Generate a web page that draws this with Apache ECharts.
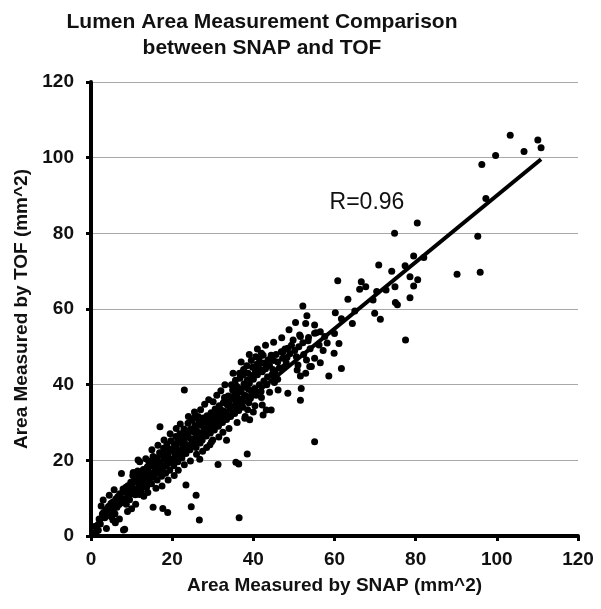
<!DOCTYPE html>
<html>
<head>
<meta charset="utf-8">
<script src="https://cdn.jsdelivr.net/npm/echarts@6/dist/echarts.min.js"></script>
<style>
html,body{margin:0;padding:0;background:#fff;}
#chart{width:601px;height:609px;}
</style>
</head>
<body>
<div id="chart"></div>
<script>
var titleLines = ['Lumen Area Measurement Comparison', 'between SNAP and TOF'];
var xAxisName = 'Area Measured by SNAP (mm^2)';
var yAxisName = 'Area Measured by TOF (mm^2)';
var rLabel = 'R=0.96';
var rLabelPos = [68, 88];

var lowRange = [
 [0.5,0.8],[1.1,0.7],[0.9,2.5],[1.2,0.5],[1.8,1.5],[3.8,2.0],[8.3,1.8],[8.0,1.6],[2.5,7.9],
 [2.0,4.5],[2.3,3.2],[2.8,5.8],[3.1,6.2],[3.4,4.8],[3.7,7.0],[4.0,5.5],[4.3,7.8],[4.6,6.2],[4.9,8.6],
 [5.0,5.1],[5.4,4.2],[5.1,6.8],[5.4,9.0],[5.6,7.4],[5.9,5.9],[5.7,12.2],[6.1,9.8],[6.4,7.6],[6.6,10.4],[6.9,8.3],
 [7.1,11.2],[7.3,8.7],[7.6,10.0],[7.9,12.4],[7.5,16.5],[8.1,9.4],[8.4,11.6],[8.6,12.9],[8.9,10.2],[8.7,8.4],
 [9.1,13.3],[9.3,10.8],[9.6,12.1],[9.8,14.2],[9.5,9.6],[10.0,11.6],[10.2,13.8],[10.5,12.5],[10.7,15.0],[10.9,10.9],[10.3,16.0],[10.4,16.8],
 [11.1,14.4],[11.3,12.2],[11.6,15.6],[11.8,13.1],[11.5,17.2],[11.9,11.0],[11.6,20.1],
 [12.0,14.0],[12.2,16.3],[12.5,13.2],[12.7,15.5],[12.9,17.6],[12.4,11.8],
 [13.0,15.8],[13.2,14.1],[13.5,16.9],[13.7,12.9],[13.9,18.3],[13.4,15.0],
 [14.0,17.4],[14.3,15.2],[14.5,18.8],[14.7,16.0],[14.9,13.8],[14.2,19.8]
];
var midRange = [
 [15.0,16.7],[15.2,18.6],[15.5,15.5],[15.7,19.9],[15.9,17.6],[15.3,21.0],[15.3,7.6],
 [16.0,18.4],[16.2,20.6],[16.5,16.8],[16.7,19.2],[16.9,22.0],[16.3,14.8],[17.0,28.9],[17.7,7.3],
 [17.0,19.6],[17.2,17.6],[17.5,21.4],[17.7,18.6],[17.9,23.2],[17.4,15.8],[18.9,6.2],
 [18.0,20.4],[18.2,22.2],[18.5,18.8],[18.7,24.3],[18.9,20.9],[18.4,16.6],
 [19.0,21.8],[19.2,19.6],[19.5,23.0],[19.7,25.2],[19.9,20.2],[19.4,17.4],
 [20.0,22.6],[20.2,20.4],[20.5,24.4],[20.7,21.6],[20.9,26.3],[20.4,18.6],
 [21.0,23.4],[21.2,21.0],[21.5,25.6],[21.7,22.6],[21.9,27.0],[21.4,19.6],
 [22.0,24.6],[22.2,22.4],[22.5,26.2],[22.7,23.6],[22.9,28.3],[22.4,20.6],[23.0,38.6],
 [23.0,25.0],[23.2,27.4],[23.5,23.2],[23.7,26.6],[23.9,29.8],[23.4,21.8],[23.4,13.5],[24.7,7.7],[25.9,10.8],[26.7,4.2],
 [24.0,26.2],[24.2,24.0],[24.5,28.2],[24.7,25.6],[24.9,30.6],[24.4,22.8],
 [25.0,27.6],[25.3,25.0],[25.6,29.2],[25.8,26.4],[25.4,31.2],[25.9,23.4],
 [26.0,28.0],[26.3,26.0],[26.6,30.4],[26.8,27.2],[26.4,31.6],[26.9,24.6],[26.8,20.3],
 [27.0,29.4],[27.3,27.0],[27.6,31.2],[27.8,28.4],[27.4,25.4],
 [28.0,30.2],[28.3,28.0],[28.6,31.8],[28.8,29.4],[28.4,26.4],
 [29.0,31.0],[29.3,29.0],[29.6,32.6],[29.8,30.4],[29.4,27.2],[29.3,24.1],[29.7,24.9],
 [30.0,31.6],[30.3,30.0],[30.6,33.6],[30.8,31.0],[30.1,35.5],[30.4,28.0],
 [31.0,32.6],[31.3,30.6],[31.6,34.4],[31.8,32.0],[31.4,29.0],[31.3,18.9],
 [32.0,33.4],[32.3,31.6],[32.6,35.2],[32.8,33.0],[32.4,30.0],[32.9,36.6],
 [33.0,35.9],[33.3,32.6],[33.6,34.6],[33.8,37.0],[33.4,30.8],[33.4,25.3],
 [34.0,35.4],[34.2,33.6],[34.5,36.8],[34.7,34.2],[34.9,38.6],[34.4,31.6],[34.6,40.0]
];
var spreadRange = [
 [3.0,9.5],[4.5,10.8],[6.0,3.5],[7.0,4.5],[9.0,6.5],[10.0,7.2],[11.0,8.4],[12.0,19.6],[13.0,10.5],[13.5,20.4],
 [14.0,11.5],[15.0,22.8],[16.0,12.6],[16.5,24.0],[17.5,13.2],[18.0,25.4],[19.0,14.8],[19.5,27.0],[20.5,16.0],
 [21.0,28.4],[21.5,17.4],[22.0,29.6],[23.0,18.8],[24.0,31.6],[24.5,19.8],[25.5,32.8],[26.0,21.6],[27.0,33.4],
 [27.5,22.4],[28.0,34.8],[28.5,23.4],[29.0,36.0],[30.0,25.4],[31.0,37.2],[31.5,26.2],[32.0,38.4],[32.5,27.4],
 [33.0,40.0],[34.0,28.4],[35.0,43.0],[36.0,30.0],[37.0,46.0],[38.0,31.6],[39.0,48.0],[40.0,32.8],[41.0,49.4],
 [42.0,36.6],[43.0,50.4],[44.0,38.0],[45.0,51.2],[46.0,41.4],[47.0,52.4]
];
var denseRange = [
 [35.0,36.2],[35.2,34.0],[35.5,38.0],[35.7,35.4],[35.9,39.6],[35.4,32.4],[35.6,41.2],[35.8,37.0],[35.7,19.5],[36.4,19.0],[36.5,4.8],
 [36.0,37.6],[36.2,35.0],[36.5,39.0],[36.7,41.7],[36.9,36.2],[36.4,33.2],[36.6,43.0],[36.8,38.2],
 [37.0,38.4],[37.2,36.0],[37.5,42.6],[37.7,40.2],[37.9,31.1],[37.4,34.0],[37.6,44.0],[37.8,37.2],
 [38.0,39.4],[38.2,37.0],[38.5,41.2],[38.7,43.0],[38.9,35.2],[38.4,45.0],[38.6,33.4],[38.8,38.8],[38.5,21.7],
 [39.0,40.4],[39.1,30.7],[39.4,42.4],[39.6,38.0],[39.8,44.6],[39.3,36.4],[39.9,41.6],[39.5,46.4],
 [40.0,41.4],[40.3,39.0],[40.5,43.6],[40.7,37.2],[40.9,45.4],[40.4,34.4],[40.6,47.4],
 [41.0,42.6],[41.2,45.2],[41.5,40.0],[41.7,44.0],[41.9,38.2],[41.4,47.0],
 [42.0,45.7],[42.2,43.4],[42.4,32.0],[42.6,41.0],[42.8,45.7],[42.2,34.6],[42.0,48.3],[42.4,47.8],
 [43.0,44.2],[43.2,33.3],[43.5,42.0],[43.7,46.6],[43.3,40.0],
 [44.0,45.0],[44.4,47.8],[44.4,33.3],[44.6,42.6],[44.8,44.0],[44.5,47.4],
 [45.0,46.4],[45.3,43.4],[45.6,48.0],[45.2,40.6],
 [46.1,38.6],[46.0,46.0],[46.4,44.4],[46.9,48.7],[47.2,47.0],[47.5,44.6],[47.8,49.4],[47.3,48.7],
 [48.1,45.7],[48.5,49.6],[48.5,37.7],[48.8,54.5],[48.3,47.2],[49.0,48.2],[49.4,50.4],[49.8,51.8]
];
var highRange = [
 [50.4,56.4],[50.8,43.9],[51.0,45.2],[50.2,49.0],[50.6,47.4],
 [51.4,53.1],[51.6,52.7],[51.6,42.3],[51.8,39.0],[51.6,35.9],[51.2,50.0],
 [52.2,60.8],[52.2,51.1],[52.9,56.2],[52.9,43.0],[52.4,48.0],
 [53.1,46.5],[53.2,58.2],[53.5,51.6],[53.6,52.5],[53.9,44.8],[54.3,44.8],[54.0,49.5],
 [55.1,55.8],[55.1,53.6],[55.1,47.0],[55.5,53.7],[55.1,24.9],[56.5,54.0],[56.5,45.8],[56.2,50.5],
 [57.6,52.7],[57.2,49.0],[58.6,42.3],[58.2,51.0],
 [59.9,48.3],[61.1,50.9],[61.7,44.3],[60.2,59.0],[61.7,57.4],[60.8,67.5],[60.0,53.5],
 [63.3,62.6],[64.4,56.2],[66.6,67.2],[66.2,65.2],[65.0,59.5],
 [67.7,65.9],[69.5,62.4],[69.9,58.9],[71.3,57.3],[70.4,64.6],[70.9,71.6],[72.7,65.0],
 [74.1,70.0],[74.8,80.0],[74.9,65.9],[75.0,61.7],[75.5,61.1],[77.4,71.4],[77.5,51.8],[78.6,68.5],[78.6,63.0],
 [79.5,74.0],[79.5,66.1],[80.4,82.7],[80.5,67.7],[82.0,73.6],
 [90.2,69.2],[95.3,79.2],[95.9,69.7],[96.3,98.2],[97.3,89.2],[99.7,100.6],[103.3,105.9],[106.7,101.6],[110.1,104.7],[110.9,102.6]
];
var fitLine = [[0.5, 2.4], [110.9, 99.6]];

var xMin = 0, xMax = 120, xStep = 20;
var yMin = 0, yMax = 120, yStep = 20;

var allPoints = lowRange.concat(midRange, spreadRange, denseRange, highRange);
var chart = echarts.init(document.getElementById('chart'));
var fontFam = '"Liberation Sans", Arial, sans-serif';
chart.setOption({
  animation: false,
  backgroundColor: '#ffffff',
  grid: {left: 91, right: 23, top: 82, bottom: 73, containLabel: false},
  graphic: [
    {type: 'text', x: 262, y: 9, style: {text: titleLines.join('\n'), textAlign: 'center', textVerticalAlign: 'top', font: 'bold 21px ' + fontFam, fill: '#111', lineHeight: 26}}
  ],
  xAxis: {
    type: 'value', min: xMin, max: xMax, interval: xStep,
    name: xAxisName, nameLocation: 'middle', nameGap: 40,
    nameTextStyle: {fontFamily: fontFam, fontWeight: 'bold', fontSize: 19, color: '#111'},
    axisLine: {show: true, lineStyle: {color: '#000', width: 4}},
    axisTick: {show: true, inside: false, length: 5, lineStyle: {color: '#000', width: 3}},
    axisLabel: {fontFamily: fontFam, fontWeight: 'bold', fontSize: 19, color: '#111', margin: 14},
    splitLine: {show: false}
  },
  yAxis: {
    type: 'value', min: yMin, max: yMax, interval: yStep,
    name: yAxisName, nameLocation: 'middle', nameGap: 60,
    nameTextStyle: {fontFamily: fontFam, fontWeight: 'bold', fontSize: 19, color: '#111'},
    axisLine: {show: true, lineStyle: {color: '#000', width: 4}},
    axisTick: {show: true, inside: false, length: 5, lineStyle: {color: '#000', width: 3}},
    axisLabel: {fontFamily: fontFam, fontWeight: 'bold', fontSize: 19, color: '#111', margin: 17},
    splitLine: {show: true, lineStyle: {color: '#a8a8a8', width: 1}}
  },
  series: [
    {type: 'scatter', data: allPoints, symbol: 'circle', symbolSize: 7, itemStyle: {color: '#000', opacity: 1}, z: 3},
    {type: 'line', data: fitLine, showSymbol: false, symbol: 'none', lineStyle: {color: '#000', width: 4}, z: 4,
     markPoint: {symbol: 'circle', symbolSize: 0, data: [{coord: rLabelPos, label: {show: true, formatter: rLabel, fontFamily: fontFam, fontSize: 23, color: '#111'}}]}}
  ]
});
</script>
</body>
</html>
